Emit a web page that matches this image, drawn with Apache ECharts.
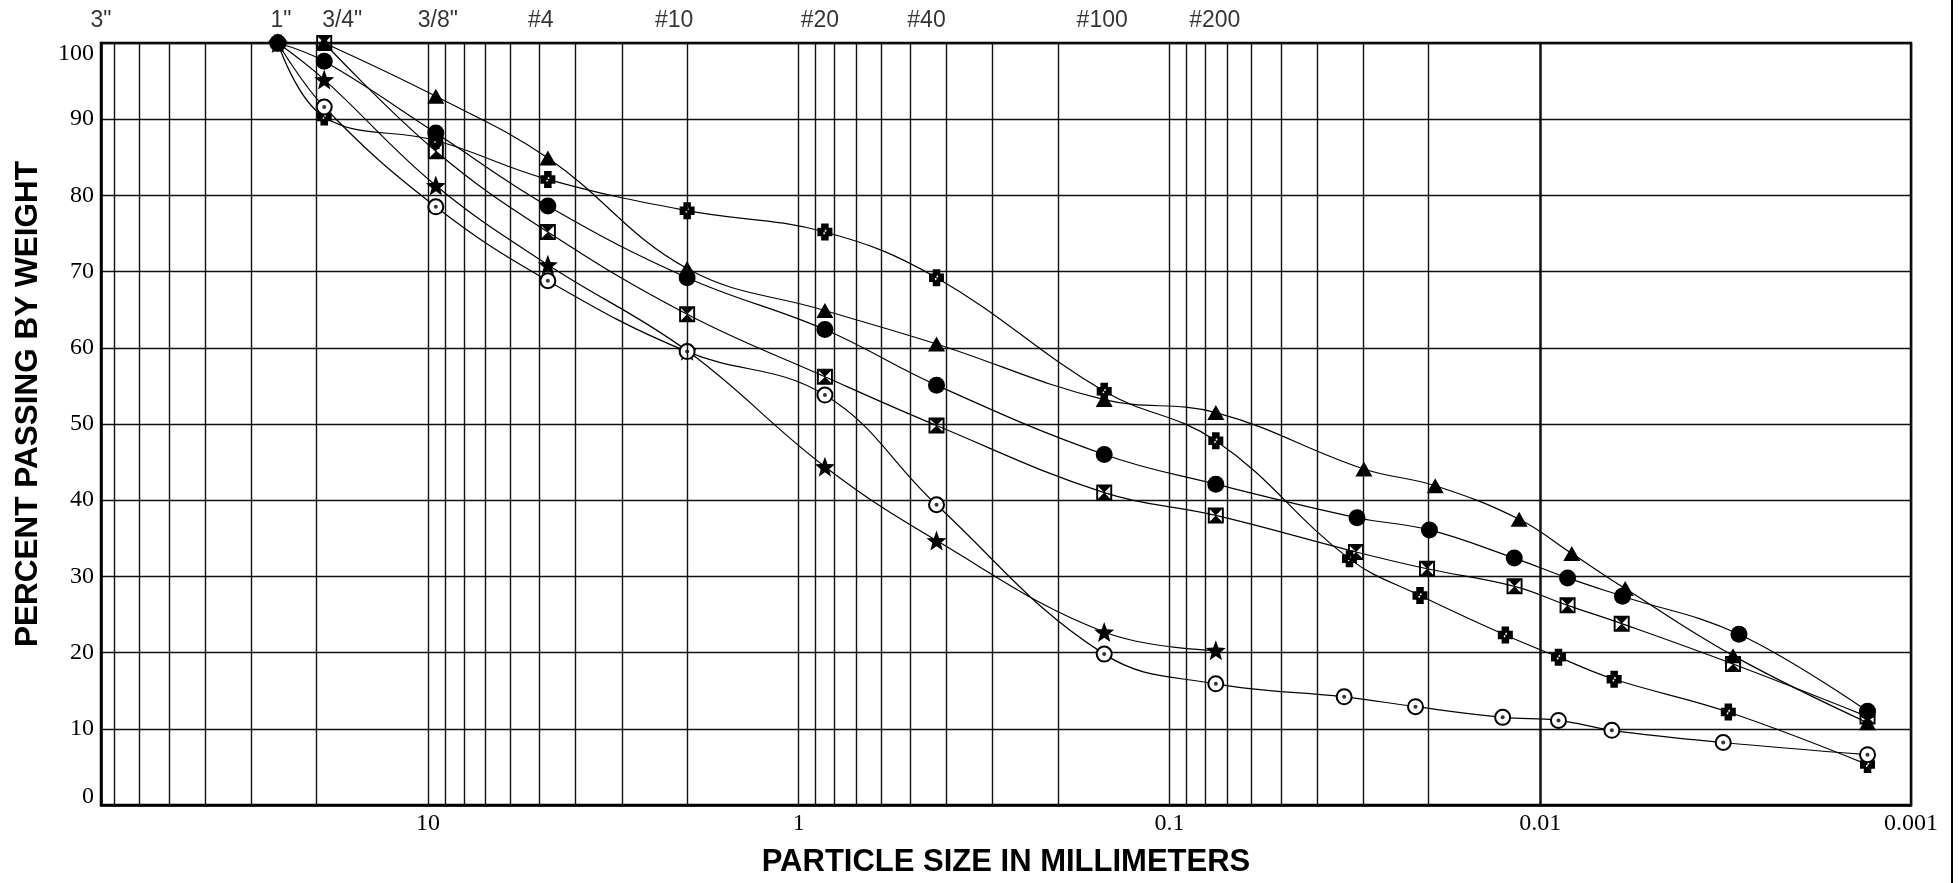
<!DOCTYPE html>
<html><head><meta charset="utf-8">
<script src="https://cdn.jsdelivr.net/npm/echarts@6/dist/echarts.min.js"></script>
<style>html,body{margin:0;padding:0;background:#fff}#c{width:1959px;height:883px}</style>
</head><body><div id="c"></div>
<script>
// ---------- DATA ----------
const topTickSizes  = [76.2, 25.4, 19.05, 9.525, 4.75, 2.0, 0.85, 0.425, 0.15, 0.075];
const topTickLabels = ['3"', '1"', '3/4"', '3/8"', '#4', '#10', '#20', '#40', '#100', '#200'];
const bottomTickExps   = [1, 0, -1, -2, -3];
const bottomTickLabels = ['10', '1', '0.1', '0.01', '0.001'];

// Series: particle size (mm) and percent passing
const triSizes  = [19.05, 9.525, 4.75, 2.0, 0.85, 0.425, 0.15, 0.075, 0.0299, 0.0192, 0.0114, 0.00822, 0.00590, 0.00302, 0.00131];
const triPct    = [100, 93.0, 84.9, 70.4, 64.9, 60.5, 53.2, 51.5, 44.1, 41.9, 37.5, 33.0, 28.4, 19.6, 10.8];

const cirSizes  = [25.4, 19.05, 9.525, 4.75, 2.0, 0.85, 0.425, 0.15, 0.075, 0.0312, 0.0199, 0.01175, 0.00844, 0.00600, 0.00291, 0.00131];
const cirPct    = [100, 97.6, 88.2, 78.6, 69.2, 62.4, 55.1, 46.0, 42.1, 37.7, 36.1, 32.4, 29.8, 27.4, 22.4, 12.3];

const hgSizes   = [19.05, 9.525, 4.75, 2.0, 0.85, 0.425, 0.15, 0.075, 0.0314, 0.0202, 0.01173, 0.00844, 0.00603, 0.00302, 0.00131];
const hgPct     = [100, 85.8, 75.2, 64.4, 56.2, 49.8, 41.0, 38.0, 33.2, 31.0, 28.7, 26.2, 23.8, 18.5, 11.6];

const crSizes   = [25.4, 19.05, 9.525, 4.75, 2.0, 0.85, 0.425, 0.15, 0.075, 0.0327, 0.0211, 0.01242, 0.00893, 0.00632, 0.00311, 0.00131];
const crPct     = [100, 90.3, 87.2, 82.1, 78.0, 75.2, 69.2, 54.3, 47.8, 32.3, 27.5, 22.3, 19.4, 16.5, 12.2, 5.3];

const stSizes   = [25.4, 19.05, 9.525, 4.75, 2.0, 0.85, 0.425, 0.15, 0.075];
const stPct     = [100, 95.2, 81.3, 70.9, 59.6, 44.4, 34.7, 22.7, 20.3];

const cdSizes   = [25.4, 19.05, 9.525, 4.75, 2.0, 0.85, 0.425, 0.15, 0.075, 0.0338, 0.0217, 0.01263, 0.00893, 0.00641, 0.00321, 0.00131];
const cdPct     = [100, 91.6, 78.5, 68.8, 59.5, 53.8, 39.4, 19.8, 15.9, 14.2, 12.9, 11.5, 11.1, 9.8, 8.2, 6.6];

// ---------- STYLE / BUILD ----------
const topLabelNudge = [0, 3, 18, 2, -7, -13, -5, -10, -2, -1]; // label offsets in px (style only)
const xMin = 0.001, xMax = 76.2;
const minorGrid = [];
[10, 1, 0.1, 0.01, 0.001].forEach(d => {
  for (let m = 2; m <= 9; m++) {
    const v = +(m * d).toPrecision(6);
    if (v < xMax && v > xMin) minorGrid.push(v);
  }
});

function starPath() {
  let p = '';
  for (let i = 0; i < 10; i++) {
    const r = i % 2 === 0 ? 50 : 21;
    const a = (-90 + i * 36) * Math.PI / 180;
    const x = (50 + r * Math.cos(a)).toFixed(2), y = (50 + r * Math.sin(a)).toFixed(2);
    p += (i === 0 ? 'M' : 'L') + x + ',' + y + ' ';
  }
  return 'path://' + p + 'Z';
}
const hourglassPath = 'path://M0,0 L100,0 L100,100 L0,100 Z M12,12 L12,88 L88,88 L88,12 Z M12,12 L88,12 L50,50 L88,88 L12,88 L50,50 Z';
const crossPath = 'path://M25,0 L75,0 L75,25 L100,25 L100,75 L75,75 L75,100 L25,100 L25,75 L0,75 L0,25 L25,25 Z M56,34 L38,56 L44,66 L62,44 Z';

const pair = (xs, ys) => xs.map((x, i) => [x, ys[i]]);
const lineBase = {
  type: 'line', smooth: 0.4, showAllSymbol: true,
  lineStyle: { color: '#000', width: 1.2 },
  itemStyle: { color: '#000' },
  z: 3, silent: true, animation: false, clip: false
};
const gridLineStyle = { color: '#111', width: 1.4, type: 'solid' };

const series = [
  {
    type: 'line', data: [], silent: true, z: 1, animation: false,
    markLine: {
      silent: true, symbol: ['none', 'none'], animation: false,
      label: { show: false },
      lineStyle: gridLineStyle,
      data: minorGrid.map(v => ({ xAxis: v }))
    }
  },
  Object.assign({}, lineBase, { name: 'tri', data: pair(triSizes, triPct), symbol: 'triangle', symbolSize: [17, 15] }),
  Object.assign({}, lineBase, { name: 'hg', data: pair(hgSizes, hgPct), symbol: hourglassPath, symbolSize: [16, 16] }),
  Object.assign({}, lineBase, { name: 'cr', data: pair(crSizes, crPct), symbol: crossPath, symbolSize: [15, 17] }),
  Object.assign({}, lineBase, { name: 'st', data: pair(stSizes, stPct), symbol: starPath(), symbolSize: 20 }),
  Object.assign({}, lineBase, { name: 'cd', data: pair(cdSizes, cdPct), symbol: 'emptyCircle', symbolSize: 15,
    itemStyle: { color: '#000', borderColor: '#000', borderWidth: 1.2 } }),
  { type: 'scatter', name: 'cdDot', data: pair(cdSizes, cdPct), symbol: 'circle', symbolSize: 4,
    itemStyle: { color: '#000' }, z: 4, silent: true, animation: false },
  Object.assign({}, lineBase, { name: 'cir', data: pair(cirSizes, cirPct), symbol: 'circle', symbolSize: 17, z: 5 }),
  {
    type: 'scatter', name: 'sieves',
    data: topTickSizes.map((s, i) => ({ value: [s, 100], name: topTickLabels[i], label: { offset: [topLabelNudge[i], 0] } })),
    symbolSize: 0, silent: true, animation: false, clip: false, z: 6,
    label: { show: true, position: 'top', distance: 11, formatter: p => p.name,
      fontFamily: 'Liberation Sans', fontSize: 23, color: '#000' }
  }
];

const bottomLabelMap = {};
bottomTickExps.forEach((e, i) => bottomLabelMap[e] = bottomTickLabels[i]);

const option = {
  backgroundColor: '#fff',
  animation: false,
  grid: { left: 101, right: 48, top: 43, bottom: 74, show: true, borderColor: '#000', borderWidth: 2.5, backgroundColor: '#fff', containLabel: false },
  xAxis: {
    type: 'log', logBase: 10, min: xMin, max: xMax, inverse: true,
    name: 'PARTICLE SIZE IN MILLIMETERS', nameLocation: 'middle', nameGap: 42,
    nameTextStyle: { fontFamily: 'Liberation Sans', fontWeight: 'bold', fontSize: 31, color: '#000' },
    axisLine: { show: true, lineStyle: { color: '#000', width: 2.5 } },
    axisTick: { show: false },
    splitLine: { show: true, lineStyle: gridLineStyle },
    axisLabel: {
      margin: 7, color: '#000', fontFamily: 'Liberation Serif', fontSize: 24,
      showMinLabel: true, showMaxLabel: true, hideOverlap: false,
      formatter: v => {
        const e = Math.round(Math.log10(v));
        return Math.abs(Math.log10(v) - e) < 1e-6 && bottomLabelMap[e] !== undefined ? bottomLabelMap[e] : '';
      }
    }
  },
  yAxis: {
    type: 'value', min: 0, max: 100, interval: 10,
    name: 'PERCENT PASSING BY WEIGHT', nameLocation: 'middle', nameGap: 57, nameRotate: 90,
    nameTextStyle: { fontFamily: 'Liberation Sans', fontWeight: 'bold', fontSize: 31.5, color: '#000', padding: [0, 0, 0, 40] },
    axisLine: { show: true, lineStyle: { color: '#000', width: 2.5 } },
    axisTick: { show: false },
    splitLine: { show: true, lineStyle: gridLineStyle },
    axisLabel: {
      margin: 7, color: '#000', fontFamily: 'Liberation Serif', fontSize: 24,
      formatter: v => v === 100 ? '{t|100}' : (v === 0 ? '{b|0}' : String(v)),
      rich: {
        t: { padding: [22, 0, 0, 0], fontFamily: 'Liberation Serif', fontSize: 24, color: '#000' },
        b: { padding: [0, 0, 16, 0], fontFamily: 'Liberation Serif', fontSize: 24, color: '#000' }
      }
    }
  },
  graphic: [
    { type: 'line', silent: true, shape: { x1: 1952, y1: 0, x2: 1952, y2: 883 }, style: { stroke: '#000', lineWidth: 2 } }
  ],
  series: series
};

const chart = echarts.init(document.getElementById('c'), null, { renderer: 'canvas' });
chart.setOption(option);
</script></body></html>
